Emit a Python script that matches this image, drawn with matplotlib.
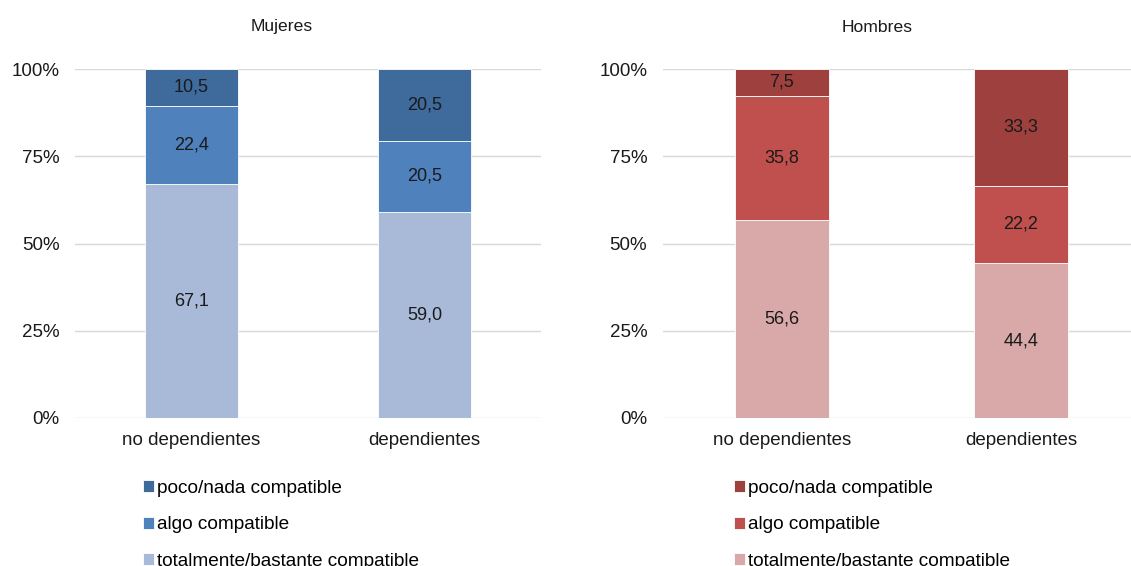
import matplotlib
matplotlib.use("Agg")
import matplotlib.pyplot as plt
import numpy as np

plt.rcParams['font.family'] = ['Liberation Sans', 'DejaVu Sans']

categories = ["no dependientes", "dependientes"]
series_labels = ["totalmente/bastante compatible", "algo compatible", "poco/nada compatible"]

mujeres_total = [67.1, 59.0]
mujeres_algo = [22.4, 20.5]
mujeres_poco = [10.5, 20.5]

hombres_total = [56.6, 44.4]
hombres_algo = [35.8, 22.2]
hombres_poco = [7.5, 33.3]

colors_m = ["#A9BAD9", "#4F81BD", "#3F6A9C"]
colors_h = ["#D9A9A9", "#C0504D", "#9E413E"]

fig = plt.figure(figsize=(11.31, 5.66), dpi=100)

def fmt(v):
    return f"{v:.1f}".replace(".", ",")

def panel(rect, title, title_x, data, colors, leg_x, bw):
    ax = fig.add_axes(rect)
    x = np.arange(len(categories))
    bottom = np.zeros(len(categories))
    handles = []
    for vals, col, lab in zip(data, colors, series_labels):
        vals = np.array(vals)
        b = ax.bar(x, vals, bw, bottom=bottom, color=col, edgecolor="white",
                   linewidth=0.6, label=lab, zorder=3)
        for xi, v, bt in zip(x, vals, bottom):
            ax.text(xi, bt + v / 2, fmt(v), ha="center", va="center",
                    fontsize=13, color="#1a1a1a", zorder=4)
        handles.append(b)
        bottom += vals
    ax.set_xlim(-0.5, 1.5)
    ax.set_ylim(0, 100)
    ax.set_yticks([0, 25, 50, 75, 100])
    ax.set_yticklabels(["0%", "25%", "50%", "75%", "100%"])
    ax.set_xticks(x)
    ax.set_xticklabels(categories)
    ax.tick_params(axis="both", length=0, labelsize=13.5, colors="#1a1a1a")
    ax.tick_params(axis="y", pad=11)
    ax.tick_params(axis="x", pad=10)
    ax.yaxis.grid(True, color="#D9D9D9", linewidth=1.0, zorder=0)
    for s in ax.spines.values():
        s.set_visible(False)
    fig.text(title_x, 1 - 27 / 566, title, ha="center", va="center",
             fontsize=12.6, color="#1a1a1a")
    fig.legend(handles[::-1], series_labels[::-1], loc="upper left",
               bbox_to_anchor=(leg_x, 1 - 480 / 566), frameon=False,
               fontsize=13.7, handlelength=0.6, handleheight=0.6,
               handletextpad=0.15, labelspacing=1.02, borderpad=0,
               borderaxespad=0)
    return ax

panel([75 / 1131, 1 - 418 / 566, 466 / 1131, 349 / 566], "Mujeres", 282 / 1131,
      [mujeres_total, mujeres_algo, mujeres_poco], colors_m, 143 / 1131, 0.4)
panel([662.5 / 1131, 1 - 418 / 566, 478 / 1131, 349 / 566], "Hombres", 877 / 1131,
      [hombres_total, hombres_algo, hombres_poco], colors_h, 734 / 1131, 0.393)

fig.savefig("out.png", dpi=100)
